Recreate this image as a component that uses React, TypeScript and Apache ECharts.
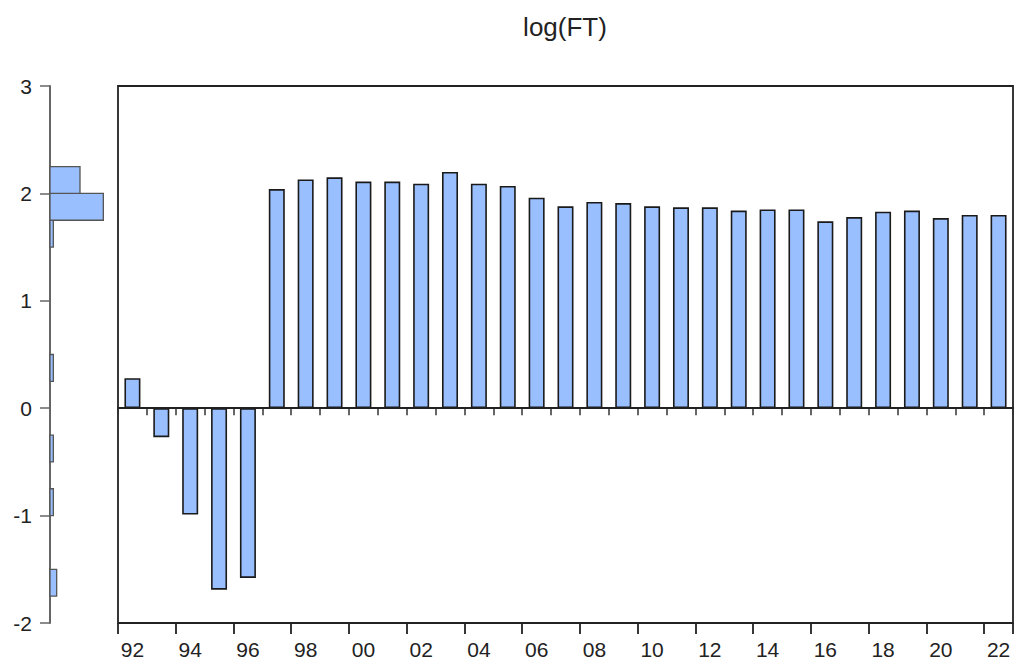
import React, { useEffect, useRef } from "react";
import * as echarts from "echarts";

const years = [
  "1992","1993","1994","1995","1996","1997","1998","1999","2000","2001","2002",
  "2003","2004","2005","2006","2007","2008","2009","2010","2011","2012","2013",
  "2014","2015","2016","2017","2018","2019","2020","2021","2022",
];
const logFT = [
  0.28, -0.27, -0.99, -1.69, -1.58, 2.04, 2.13, 2.15, 2.11, 2.11, 2.09,
  2.2, 2.09, 2.07, 1.96, 1.88, 1.92, 1.91, 1.88, 1.87, 1.87, 1.84,
  1.85, 1.85, 1.74, 1.78, 1.83, 1.84, 1.77, 1.8, 1.8,
];
const yTicks = [-2, -1, 0, 1, 2, 3];
const binWidth = 0.25;
const title = "log(FT)";

function histogram(values: number[], lo: number, hi: number, w: number) {
  const n = Math.round((hi - lo) / w);
  const counts = new Array(n).fill(0);
  values.forEach((v) => {
    const i = Math.floor((v - lo) / w);
    if (i >= 0 && i < n) counts[i]++;
  });
  const out: number[][] = [];
  counts.forEach((c, i) => {
    if (c > 0) out.push([lo + i * w, lo + (i + 1) * w, c]);
  });
  return out;
}

export default function App() {
  const ref = useRef<HTMLDivElement>(null);
  useEffect(() => {
    document.body.style.margin = "0";
    const chart = echarts.init(ref.current!, null, { renderer: "svg" });
    const font = "'Liberation Sans', Arial, sans-serif";
    const yMin = yTicks[0];
    const yMax = yTicks[yTicks.length - 1];
    const bins = histogram(logFT, yMin, yMax, binWidth);
    const labels = years.map((y) => y.slice(2));
    chart.setOption({
      animation: false,
      textStyle: { fontFamily: font },
      graphic: [
        {
          type: "text",
          x: 565,
          y: 27,
          style: {
            text: title,
            fontSize: 26,
            fontFamily: font,
            fill: "#222",
            textAlign: "center",
            textVerticalAlign: "middle",
          },
        },
      ],
      grid: [
        {
          left: 118,
          top: 86,
          width: 895,
          height: 537,
          show: true,
          borderColor: "#222",
          borderWidth: 1.8,
          backgroundColor: "transparent",
        },
        { left: 50, top: 86, width: 60, height: 537 },
      ],
      xAxis: [
        {
          type: "category",
          gridIndex: 0,
          data: labels,
          position: "bottom",
          boundaryGap: true,
          axisLine: { show: true, lineStyle: { color: "#222", width: 1.8 } },
          axisTick: { show: true, interval: 0, length: 7, lineStyle: { color: "#333", width: 1.5 } },
          axisLabel: { show: false },
        },
        {
          type: "category",
          gridIndex: 0,
          data: labels,
          position: "bottom",
          boundaryGap: true,
          axisLine: { show: false },
          axisTick: { show: true, interval: 1, length: 11, lineStyle: { color: "#222", width: 1.8 } },
          axisLabel: { show: true, interval: 1, fontSize: 21, color: "#222", margin: 16, fontFamily: font },
        },
        {
          type: "value",
          gridIndex: 1,
          min: 0,
          max: 18,
          show: false,
        },
      ],
      yAxis: [
        {
          type: "value",
          gridIndex: 0,
          min: yMin,
          max: yMax,
          interval: 1,
          axisLine: { show: false },
          axisTick: { show: false },
          axisLabel: { show: false },
          splitLine: { show: false },
        },
        {
          type: "value",
          gridIndex: 1,
          min: yMin,
          max: yMax,
          interval: 1,
          position: "left",
          axisLine: { show: true, onZero: false, lineStyle: { color: "#666", width: 2 } },
          axisTick: { show: true, length: 10, lineStyle: { color: "#666", width: 1.5 } },
          axisLabel: { show: true, fontSize: 21, color: "#222", margin: 18, fontFamily: font },
          splitLine: { show: false },
        },
      ],
      series: [
        {
          type: "bar",
          xAxisIndex: 0,
          yAxisIndex: 0,
          data: logFT,
          barWidth: 16,
          itemStyle: { color: "#99bfff", borderColor: "#1a1a1a", borderWidth: 1.6 },
          markLine: {
            silent: true,
            symbol: "none",
            label: { show: false },
            lineStyle: { color: "#222", width: 1.5, type: "solid" },
            data: [{ yAxis: 0 }],
          },
        },
        {
          type: "custom",
          xAxisIndex: 2,
          yAxisIndex: 1,
          data: bins,
          encode: { x: 2, y: [0, 1] },
          renderItem: (params: any, api: any) => {
            const p0 = api.coord([0, api.value(1)]);
            const p1 = api.coord([api.value(2), api.value(0)]);
            return {
              type: "rect",
              shape: { x: p0[0], y: p0[1], width: p1[0] - p0[0], height: p1[1] - p0[1] },
              style: { fill: "#99bfff", stroke: "#555", lineWidth: 1.3 },
            };
          },
        },
      ],
    });
    return () => chart.dispose();
  }, []);
  return <div ref={ref} style={{ width: 1015, height: 662 }} />;
}
